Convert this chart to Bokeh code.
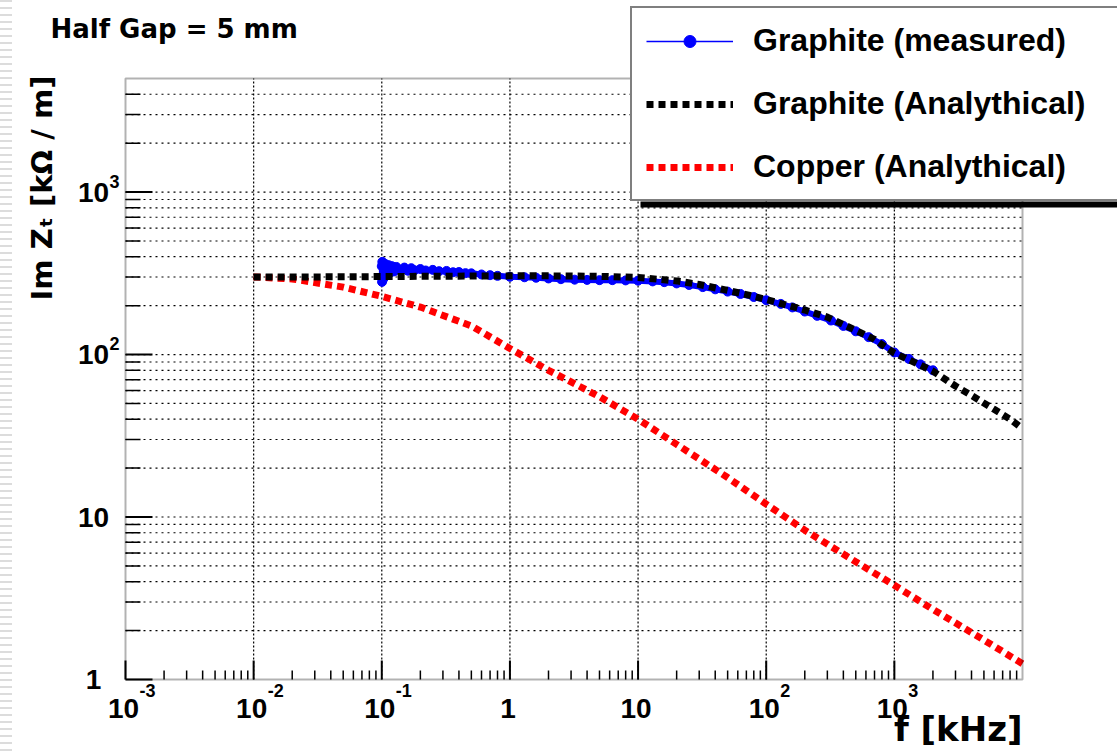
import numpy as np
from bokeh.plotting import figure
from bokeh.models import Legend, LegendItem, Label, Range1d, BoxAnnotation
from bokeh.core.properties import value
from bokeh.embed import file_html
from bokeh.resources import INLINE

# ---------------- data ----------------
meas_f = [0.100, 0.1005, 0.101, 0.102, 0.103, 0.105, 0.107, 0.110, 0.113, 0.117,
          0.120, 0.125, 0.130, 0.140, 0.150, 0.160, 0.170, 0.180, 0.200, 0.220,
          0.250, 0.280, 0.320, 0.360, 0.400, 0.450, 0.500, 0.600, 0.700, 0.800,
          1.0, 1.3, 1.6, 2.0, 2.5, 3.2, 4.0, 5.0, 6.3, 8.0,
          10, 13, 16, 20, 25, 32, 40, 50, 63, 80,
          100, 130, 160, 200, 250, 320, 400, 500, 630, 800,
          1000, 1300, 1600, 2000]
meas_z = [350, 280, 372, 290, 365, 300, 360, 315, 355, 320,
          350, 325, 346, 330, 343, 328, 340, 330, 336, 329,
          332, 326, 327, 321, 322, 317, 316, 311, 308, 305,
          301, 299, 297, 294, 291, 289, 288, 287, 287, 286,
          285, 282, 279, 274, 268, 260, 252, 244, 236, 226,
          216, 205, 195, 184, 173, 162, 150, 139, 128, 116,
          103, 94, 87, 80]

gana_f = [0.01, 0.02, 0.05, 0.1, 0.2, 0.5, 1, 2, 5, 10, 20, 30, 50, 70, 100,
          200, 300, 500, 700, 1000, 1500, 2000, 3000, 4000, 6000, 8000, 10000]
gana_z = [300, 300, 301, 302, 303, 304, 305, 305, 303, 298, 284, 270, 248, 234, 218,
          188, 170, 141, 124, 102, 88, 79, 64, 56, 46, 40, 35]

cu_f = [0.01, 0.02, 0.05, 0.1, 0.2, 0.5, 1, 2, 5, 10, 20, 50, 100, 200, 500,
        1000, 2000, 5000, 10000]
cu_z = [300, 292, 260, 228, 196, 150, 109, 80, 55, 40, 28, 17.5, 12, 8.3, 5.3,
        3.8, 2.7, 1.75, 1.25]

x_ticks = [1e-3, 1e-2, 1e-1, 1, 10, 100, 1000]
x_tick_base = ["10", "10", "10", "1", "10", "10", "10"]
x_tick_exp = ["-3", "-2", "-1", "", "", "2", "3"]
y_ticks = [1, 10, 100, 1000]
y_tick_base = ["1", "10", "10", "10"]
y_tick_exp = ["", "", "2", "3"]

X_LIM = (1e-3, 1e4)
Y_LIM = (1, 5000)

FONT = "Liberation Sans"
FONT_WIDE = "DejaVu Sans"

# ---------------- layout geometry (pixels) ----------------
W, H = 1117, 751
L, R, T, B = 125, 1022, 78, 679
lx0, lx1 = np.log10(X_LIM[0]), np.log10(X_LIM[1])
ly0, ly1 = np.log10(Y_LIM[0]), np.log10(Y_LIM[1])
xpd = (R - L) / (lx1 - lx0)
ypd = (B - T) / (ly1 - ly0)
x_range = Range1d(10 ** (lx0 - L / xpd), 10 ** (lx1 + (W - R) / xpd))
y_range = Range1d(10 ** (ly0 - (H - B) / ypd), 10 ** (ly1 + T / ypd))

x_minor = [m * 10.0 ** e for e in range(-3, 4) for m in range(2, 10)]
y_minor = [m * 10.0 ** e for e in range(0, 4) for m in range(2, 10) if m * 10.0 ** e < Y_LIM[1]]
x_grid = [t for t in x_ticks if X_LIM[0] < t < X_LIM[1]]
y_grid = sorted([t for t in y_ticks if Y_LIM[0] < t < Y_LIM[1]] + y_minor)

p = figure(width=W, height=H, x_axis_type="log", y_axis_type="log",
           x_range=x_range, y_range=y_range,
           x_axis_location=None, y_axis_location=None,
           output_backend="svg", toolbar_location=None, min_border=0)
p.outline_line_color = None
p.background_fill_alpha = 0
p.border_fill_alpha = 0
p.xgrid.visible = False
p.ygrid.visible = False
p.styles = {
    "background-color": "white",
    "background-image": "repeating-linear-gradient(to bottom, #dcdcdc 0px, #dcdcdc 2px, #ffffff 2px, #ffffff 7px)",
    "background-size": "12px 100%",
    "background-repeat": "no-repeat",
}

# ---------------- grid ----------------
p.segment(x0=x_grid, y0=Y_LIM[0], x1=x_grid, y1=Y_LIM[1],
          line_color="black", line_width=1.2, line_dash="2 2")
p.segment(x0=X_LIM[0], y0=y_grid, x1=X_LIM[1], y1=y_grid,
          line_color="black", line_width=1.2, line_dash="2 4")

# ---------------- ticks ----------------
p.ray(x=x_ticks, y=Y_LIM[0], length=19, angle=np.pi / 2, length_units="screen",
      line_color="black", line_width=2)
p.ray(x=x_minor, y=Y_LIM[0], length=9, angle=np.pi / 2, length_units="screen",
      line_color="black", line_width=1.5)
p.ray(x=X_LIM[0], y=y_ticks, length=27, angle=0, length_units="screen",
      line_color="black", line_width=2)
p.ray(x=X_LIM[0], y=y_minor, length=15, angle=0, length_units="screen",
      line_color="black", line_width=1.5)

# tick labels
p.text(x=x_ticks, y=Y_LIM[0], text=x_tick_base, x_offset=-2, y_offset=29,
       text_align="center", text_baseline="alphabetic",
       text_font=value(FONT), text_font_style="bold", text_font_size="28px", text_color="black")
p.text(x=x_ticks, y=Y_LIM[0], text=x_tick_exp, x_offset=14, y_offset=11,
       text_align="left", text_baseline="alphabetic",
       text_font=value(FONT), text_font_style="bold", text_font_size="18px", text_color="black")
p.text(x=X_LIM[0], y=y_ticks, text=y_tick_base, x_offset=-32, y_offset=0,
       text_align="center", text_baseline="alphabetic",
       text_font=value(FONT), text_font_style="bold", text_font_size="28px", text_color="black")
p.text(x=X_LIM[0], y=y_ticks, text=y_tick_exp, x_offset=-16, y_offset=-11,
       text_align="left", text_baseline="alphabetic",
       text_font=value(FONT), text_font_style="bold", text_font_size="18px", text_color="black")

# ---------------- curves ----------------
r_cu = p.line(cu_f, cu_z, line_color="red", line_width=7, line_dash="7 5", line_cap="butt")
p.line(meas_f, meas_z, line_color="blue", line_width=6)
p.scatter(meas_f, meas_z, marker="circle", size=9, fill_color="blue", line_color="blue")
r_meas_line = p.line(meas_f, meas_z, line_color="blue", line_width=1.5)
r_meas_pts = p.scatter(meas_f, meas_z, marker="circle", size=5, fill_color="blue", line_color="blue")
r_ga = p.line(gana_f, gana_z, line_color="black", line_width=7, line_dash="7 5", line_cap="butt")

# ---------------- frame ----------------
frame = BoxAnnotation(left=X_LIM[0], right=X_LIM[1], bottom=Y_LIM[0], top=Y_LIM[1],
                      fill_alpha=0, line_color="black", line_width=2)
p.add_layout(frame)

# ---------------- legend ----------------
LEG_LEFT, LEG_BOTTOM = 630, 201
shadow = BoxAnnotation(left=LEG_LEFT + 10, right=W + 50, bottom=H - LEG_BOTTOM - 6, top=H - LEG_BOTTOM,
                       left_units="screen", right_units="screen",
                       bottom_units="screen", top_units="screen",
                       fill_color="black", fill_alpha=1, line_alpha=0)
p.add_layout(shadow)

legend = Legend(items=[
    LegendItem(label="Graphite (measured)", renderers=[r_meas_line, r_meas_pts]),
    LegendItem(label="Graphite (Analythical)", renderers=[r_ga]),
    LegendItem(label="Copper (Analythical)", renderers=[r_cu]),
], location=(LEG_LEFT, H - LEG_BOTTOM))
legend.label_text_font = FONT
legend.label_text_font_style = "bold"
legend.label_text_font_size = "32px"
legend.label_text_color = "black"
legend.label_width = 420
legend.glyph_width = 87
legend.glyph_height = 30
legend.spacing = 26
legend.padding = 14
legend.margin = 0
legend.label_standoff = 20
legend.border_line_color = "black"
legend.border_line_width = 2
legend.background_fill_color = "white"
legend.background_fill_alpha = 1
p.add_layout(legend)

# ---------------- texts ----------------
p.add_layout(Label(x=50, y=H - 28, x_units="screen", y_units="screen", text="Half Gap = 5 mm",
                   text_font=FONT_WIDE, text_font_style="bold", text_font_size="26px",
                   text_baseline="alphabetic", text_align="left", text_color="black"))
p.add_layout(Label(x=41, y=H - 75, x_units="screen", y_units="screen", text="Im Z\u209c [k\u03a9 / m]",
                   angle=np.pi / 2, text_font=FONT_WIDE, text_font_style="bold", text_font_size="29px",
                   text_baseline="middle", text_align="right", text_color="black"))
p.add_layout(Label(x=R, y=23, x_units="screen", y_units="screen", text="f [kHz]",
                   text_font=FONT_WIDE, text_font_style="bold", text_font_size="34px",
                   text_baseline="alphabetic", text_align="right", text_color="black"))

open("out.html", "w").write(file_html(p, INLINE))
